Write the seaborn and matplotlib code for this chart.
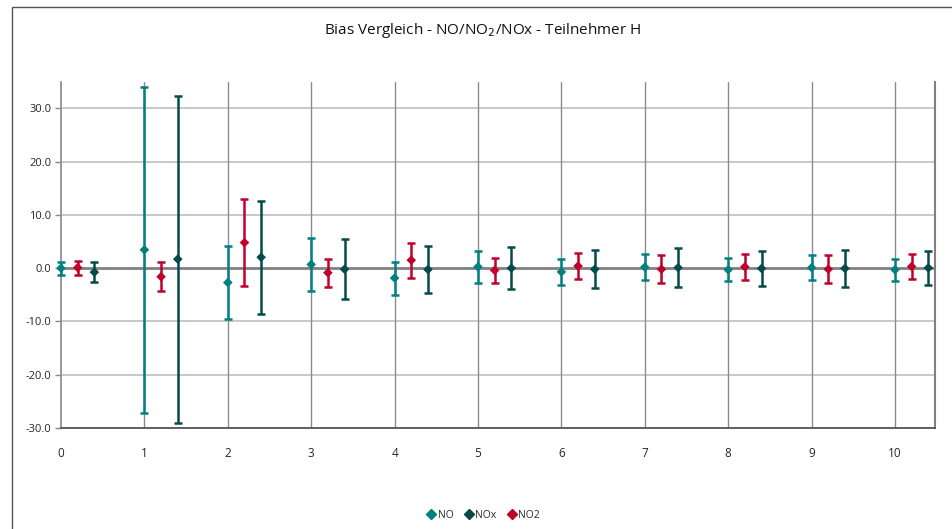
import matplotlib
matplotlib.use("Agg")
import matplotlib.pyplot as plt
import seaborn as sns
import pandas as pd
import numpy as np
from matplotlib.patches import Rectangle
from matplotlib.lines import Line2D

participants = [0, 1, 2, 3, 4, 5, 6, 7, 8, 9, 10]
no_bias = [0.0, 3.45, -2.7, 0.7, -1.85, 0.25, -0.7, 0.2, -0.3, 0.1, -0.3]
no_err = [1.25, 30.6, 6.85, 5.0, 3.1, 3.05, 2.45, 2.5, 2.2, 2.35, 2.1]
no2_bias = [0.1, -1.6, 4.8, -0.85, 1.5, -0.4, 0.4, -0.2, 0.25, -0.2, 0.3]
no2_err = [1.3, 2.75, 8.15, 2.6, 3.3, 2.4, 2.4, 2.6, 2.4, 2.6, 2.4]
nox_bias = [-0.75, 1.7, 2.05, -0.2, -0.25, 0.0, -0.2, 0.1, -0.05, -0.05, 0.05]
nox_err = [1.9, 30.7, 10.6, 5.6, 4.5, 3.9, 3.6, 3.6, 3.35, 3.45, 3.25]
yticks = [-30, -20, -10, 0, 10, 20, 30]

series = {"NO": (no_bias, no_err, 0.0),
          "NO2": (no2_bias, no2_err, 0.2),
          "NOx": (nox_bias, nox_err, 0.4)}
colors = {"NO": "#008080", "NO2": "#C0002A", "NOx": "#034A4A"}

rows = []
for name, (b, e, off) in series.items():
    for p, bv, ev in zip(participants, b, e):
        rows.append({"x": p + off, "bias": bv, "err": ev, "Komponente": name})
df = pd.DataFrame(rows)

sns.set_theme(style="white")
plt.rcParams['font.family'] = ['Open Sans', 'DejaVu Sans']

fig = plt.figure(figsize=(9.52, 5.29), dpi=100)
ax = fig.add_axes([61/952, 1 - 428/529, (935-61)/952, (428-81.7)/529])

fig.patches.append(Rectangle((12/952, -0.1), 1.2, 1 - 7/529 + 0.1, transform=fig.transFigure,
                             fill=False, edgecolor="#555555", linewidth=1.0, zorder=0))

for name in ["NO", "NO2", "NOx"]:
    sub = df[df["Komponente"] == name]
    _, caps, bars = ax.errorbar(sub["x"], sub["bias"], yerr=sub["err"], fmt="none",
                                ecolor=colors[name], elinewidth=1.8, capsize=3, capthick=1.8, zorder=3)
    for c in caps:
        c.set_clip_on(False)
    for b in bars:
        b.set_clip_on(False)

sns.scatterplot(data=df, x="x", y="bias", hue="Komponente", palette=colors,
                marker="D", s=24, edgecolor="none", legend=False, ax=ax, zorder=4, clip_on=False)

ax.set_xlim(0, 10.48)
ax.set_ylim(-30, 35)
ax.set_yticks(yticks)
ax.set_yticklabels([f"{v:.1f}" for v in yticks], fontsize=8)
ax.set_xticks(participants)
ax.set_xticklabels([str(p) for p in participants], fontsize=8.5)
ax.tick_params(axis="y", length=4, width=1, color="#888888", direction="out", pad=3, left=True)
ax.tick_params(axis="x", length=0, pad=14)

for v in yticks:
    if v != 0:
        ax.axhline(v, color="#BFBFBF", linewidth=1.2, zorder=1)
for p in participants[1:]:
    ax.axvline(p, color="#8C8C8C", linewidth=1.0, zorder=1)
ax.axhline(0, color="#808080", linewidth=2.0, zorder=2)

ax.spines["top"].set_visible(False)
ax.spines["left"].set_color("#8C8C8C")
ax.spines["right"].set_color("#808080")
ax.spines["right"].set_linewidth(1.5)
ax.spines["bottom"].set_color("#555555")
ax.spines["bottom"].set_linewidth(1.3)
ax.set_xlabel("")
ax.set_ylabel("")
ax.grid(False)

fig.text(483/952, 1 - 30/529, "Bias Vergleich - NO/NO$_2$/NOx - Teilnehmer H",
         ha="center", va="center", fontsize=11, color="#111111")

handles = [Line2D([], [], linestyle="none", marker="D", markersize=5,
                  markerfacecolor=colors[n], markeredgecolor=colors[n]) for n in ["NO", "NOx", "NO2"]]
fig.legend(handles, ["NO", "NOx", "NO2"], loc="center", bbox_to_anchor=(483/952, 1 - 515/529),
           ncol=3, frameon=False, fontsize=7.5, handletextpad=0.1, columnspacing=1.0,
           handlelength=1.0)

fig.savefig("out.png", dpi=100)
